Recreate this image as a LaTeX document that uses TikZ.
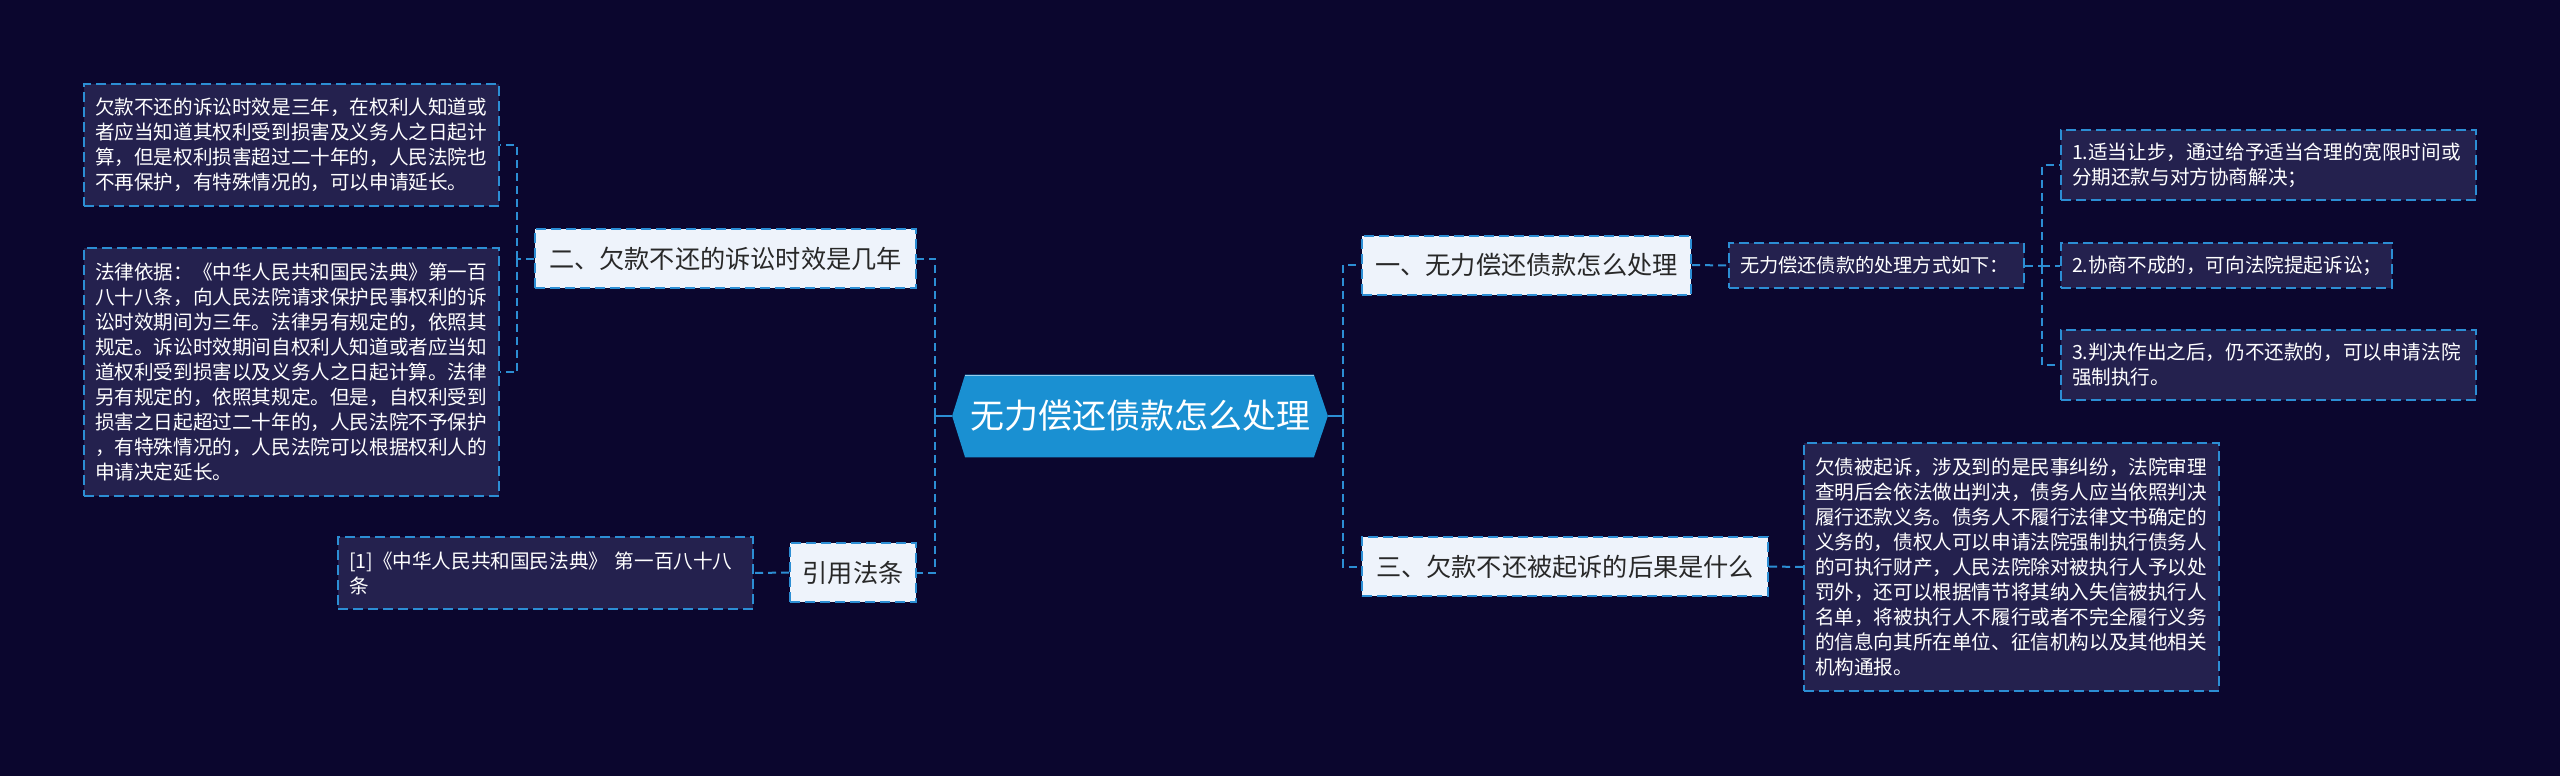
\documentclass[tikz,border=0pt]{standalone}
\usepackage{fontspec}
\setmainfont{Noto Sans CJK SC}
\definecolor{bgc}{RGB}{11,6,46}
\definecolor{lineblue}{RGB}{44,142,212}
\definecolor{leaffill}{RGB}{36,33,78}
\definecolor{lightfill}{RGB}{238,243,251}
\definecolor{darktext}{RGB}{40,40,40}
\definecolor{centerfill}{RGB}{26,144,210}
\begin{document}
\begin{tikzpicture}[x=0.5pt,y=-0.5pt,
  leaf/.style={draw=lineblue, fill=leaffill, line width=1pt, dash pattern=on 5pt off 2.5pt,
    text=white, font=\fontsize{9.8}{12.5}\selectfont, align=left, inner xsep=5.5pt, inner ysep=0pt},
  topic/.style={draw=lineblue, fill=lightfill, line width=1pt, dash pattern=on 5pt off 2.5pt,
    text=darktext, font=\fontsize{12.6}{15}\selectfont, inner sep=0pt, minimum height=29.5pt},
  conn/.style={draw=lineblue, line width=1pt, dash pattern=on 4pt off 2.5pt},
  solidconn/.style={draw=lineblue, line width=1.2pt}]
\useasboundingbox (0,0) rectangle (2560,776);
\fill[bgc] (0,0) rectangle (2560,776);

% root
\node[minimum width=187.5pt, minimum height=41pt, inner sep=0pt] (root) at (1140,416) {};
\fill[centerfill] (root.west) -- ([xshift=6.5pt]root.north west) -- ([xshift=-7pt]root.north east)
  -- (root.east) -- ([xshift=-7pt]root.south east) -- ([xshift=6.5pt]root.south west) -- cycle;
\draw[white!55!centerfill, line width=0.8pt] ([xshift=6.5pt,yshift=-0.4pt]root.north west) -- ([xshift=-7pt,yshift=-0.4pt]root.north east);
\node[text=white, font=\fontsize{17}{20}\selectfont] (roottext) at (root) {无力偿还债款怎么处理};

% left side
\node[topic, minimum width=190.5pt] (er) at (725.5,258.5) {二、欠款不还的诉讼时效是几年};
\node[topic, minimum width=63pt] (yin) at (853,572.5) {引用法条};

\node[leaf, text width=196.5pt, minimum height=61pt] (leafa) at (291.5,145) {欠款不还的诉讼时效是三年，在权利人知道或\\者应当知道其权利受到损害及义务人之日起计\\算，但是权利损害超过二十年的，人民法院也\\不再保护，有特殊情况的，可以申请延长。};
\node[leaf, text width=196.5pt, minimum height=124pt] (leafb) at (291.5,372) {法律依据：《中华人民共和国民法典》第一百\\八十八条，向人民法院请求保护民事权利的诉\\讼时效期间为三年。法律另有规定的，依照其\\规定。诉讼时效期间自权利人知道或者应当知\\道权利受到损害以及义务人之日起计算。法律\\另有规定的，依照其规定。但是，自权利受到\\损害之日起超过二十年的，人民法院不予保护\\，有特殊情况的，人民法院可以根据权利人的\\申请决定延长。};
\node[leaf, text width=196.5pt, minimum height=36pt] (ref) at (545.5,573) {[1]《中华人民共和国民法典》 第一百八十八\\条};

% right side
\node[topic, minimum width=164.5pt] (yi) at (1526.5,265) {一、无力偿还债款怎么处理};
\node[topic, minimum width=203pt] (san) at (1565,566.5) {三、欠款不还被起诉的后果是什么};

\node[leaf, text width=136.5pt, minimum height=22.5pt, font=\fontsize{9.6}{12.5}\selectfont] (sub) at (1876.5,265.5) {无力偿还债款的处理方式如下：};
\node[leaf, text width=196.5pt, minimum height=35pt] (ita) at (2268.5,165) {1.适当让步，通过给予适当合理的宽限时间或\\分期还款与对方协商解决；};
\node[leaf, text width=154.5pt, minimum height=22.5pt] (itb) at (2226.5,265.5) {2.协商不成的，可向法院提起诉讼；};
\node[leaf, text width=196.5pt, minimum height=35pt] (itc) at (2268.5,365) {3.判决作出之后，仍不还款的，可以申请法院\\强制执行。};

\node[leaf, text width=196.5pt, minimum height=124pt] (big) at (2011.5,567) {欠债被起诉，涉及到的是民事纠纷，法院审理\\查明后会依法做出判决，债务人应当依照判决\\履行还款义务。债务人不履行法律文书确定的\\义务的，债权人可以申请法院强制执行债务人\\的可执行财产，人民法院除对被执行人予以处\\罚外，还可以根据情节将其纳入失信被执行人\\名单，将被执行人不履行或者不完全履行义务\\的信息向其所在单位、征信机构以及其他相关\\机构通报。};

% connectors
\coordinate (lj) at (935,416);
\coordinate (rj) at (1343,416);
\coordinate (ej) at (517,258.5);
\coordinate (sj) at (2042,265.5);

\draw[solidconn] (root.west) -- (lj);
\draw[conn] (lj) |- (er.east);
\draw[conn] (lj) |- (yin.east);
\draw[conn] (er.west) -- (ej);
\draw[conn] (ej) |- (leafa.east);
\draw[conn] (ej) |- (leafb.east);
\draw[conn] (yin.west) -- (ref.east);

\draw[solidconn] (root.east) -- (rj);
\draw[conn] (rj) |- (yi.west);
\draw[conn] (rj) |- (san.west);
\draw[conn] (yi.east) -- (sub.west);
\draw[conn] (sub.east) -- (sj);
\draw[conn] (sj) |- (ita.west);
\draw[conn] (sj) -- (itb.west);
\draw[conn] (sj) |- (itc.west);
\draw[conn] (san.east) -- (big.west);
\end{tikzpicture}
\end{document}
